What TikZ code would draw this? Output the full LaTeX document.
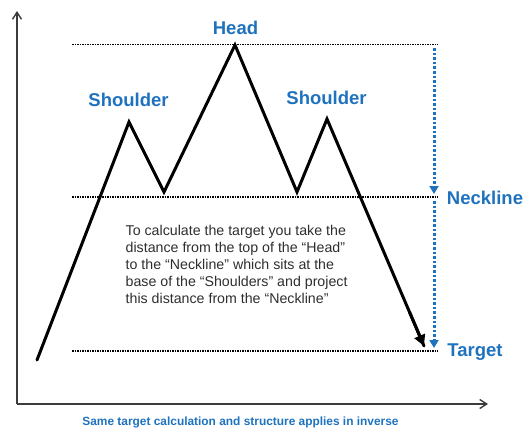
\documentclass[tikz,border=0pt]{standalone}
\usepackage{fontspec}
\setmainfont{Liberation Sans}
\usetikzlibrary{arrows.meta,calc}
\definecolor{lblblue}{RGB}{30,114,190}
\definecolor{axisgray}{RGB}{60,60,60}
\tikzset{
  lbl/.style={text=lblblue, font=\bfseries\fontsize{18.5}{20}\selectfont, inner sep=0pt},
  guide/.style={black, line width=1.3pt, dash pattern=on 1.6pt off 0.9pt},
  axisline/.style={axisgray, line width=1.4pt, -{Straight Barb[length=7pt,width=9pt,line width=1.4pt]}},
  price/.style={black, line width=3pt, line join=miter, line cap=round},
  measure/.style={lblblue, line width=3pt, dash pattern=on 2.6pt off 2pt, -{Triangle[length=8pt,width=9pt]}},
}
\begin{document}
\begin{tikzpicture}[x=1pt,y=-1pt]
\useasboundingbox (0,0) rectangle (527,428);
% axes
\coordinate (origin) at (17,404);
\coordinate (ytip) at (17,11);
\coordinate (xtip) at (488,404);
\draw[axisline] (origin) -- (ytip);
\draw[axisline] (origin) -- (xtip);
% guide lines
\coordinate (topL) at (72,44.5);
\coordinate (topR) at (438,44.5);
\coordinate (neckL) at (72,197);
\coordinate (neckR) at (438,197);
\coordinate (tgtL) at (72,351);
\coordinate (tgtR) at (438,351);
\draw[guide] (topL) -- (topR);
\draw[guide] (neckL) -- (neckR);
\draw[guide] (tgtL) -- (tgtR);
% price path
\coordinate (p0) at (37,360);
\coordinate (ls) at (129,122);
\coordinate (t1) at (164,192);
\coordinate (hd) at (235,45);
\coordinate (t2) at (297,192);
\coordinate (rs) at (327,119);
\coordinate (pend) at (424,346);
\draw[price] (p0) -- (ls) -- (t1) -- (hd) -- (t2) -- (rs) -- (pend);
\draw[black, line width=3pt, -{Triangle[length=11pt,width=11pt]}] ($(rs)!0.85!(pend)$) -- (pend);
% measuring arrows
\coordinate (m1) at (434,48);
\coordinate (m2) at (434,194);
\coordinate (m3) at (434,201);
\coordinate (m4) at (434,348);
\draw[measure] (m1) -- (m2);
\draw[measure] (m3) -- (m4);
% labels
\node[lbl] (head) at (235.5,27.5) {Head};
\node[lbl] (lsh) at (128.5,100) {Shoulder};
\node[lbl] (rsh) at (326.5,97.5) {Shoulder};
\node[lbl] (neck) at (485,198) {Neckline};
\node[lbl] (tgt) at (475,352.5) {Target};
\node[anchor=north west, inner sep=0pt, align=left, font=\fontsize{14.2}{17}\selectfont, text=black!82] (txt) at (125.5,225)
 {To calculate the target you take the\\distance from the top of the “Head”\\to the “Neckline” which sits at the\\base of the “Shoulders” and project\\this distance from the “Neckline”};
\node[text=lblblue, font=\bfseries\fontsize{11.9}{13}\selectfont, inner sep=0pt] (note) at (240.5,422) {Same target calculation and structure applies in inverse};
\end{tikzpicture}
\end{document}
